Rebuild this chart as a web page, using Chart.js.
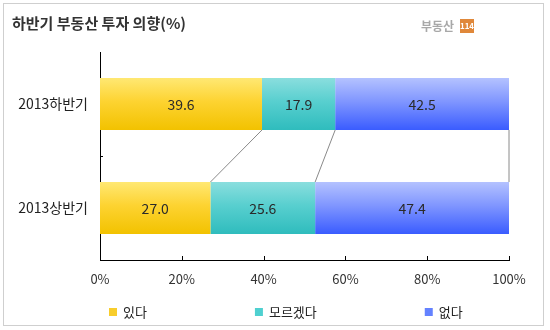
<!DOCTYPE html>
<html>
<head>
<meta charset="utf-8">
<script src="https://cdn.jsdelivr.net/npm/chart.js@4.4.0/dist/chart.umd.min.js"></script>
<style>
  body { margin: 0; background: #fff; }
  canvas { display: block; }
</style>
</head>
<body>
<canvas id="investChart" width="550" height="330"></canvas>
<script>
// Survey shares per half-year (%)
const periods = ['2013하반기', '2013상반기'];
const seriesNames = ['있다', '모르겠다', '없다'];
const yes = [39.6, 27.0];
const unsure = [17.9, 25.6];
const no = [42.5, 47.4];
const xTicks = [0, 20, 40, 60, 80, 100];

const FONT = "'Noto Sans CJK KR', 'Noto Sans', sans-serif";

// top / middle / bottom shades of each series
const shades = [
    ['#ffe873', '#fdd331', '#f2c200'],
    ['#8adede', '#58cfcf', '#2fbcbd'],
    ['#b4c2ff', '#8096ff', '#3a5cff']
];
const legendColors = ['#f8cd2c', '#4fd0d0', '#6482ff'];

const barFill = (series) => (ctx) => {
    const chart = ctx.chart;
    const y = chart.scales.y;
    if (!chart.chartArea || !y || ctx.dataIndex === undefined) return shades[series][1];
    const c = y.getPixelForValue(ctx.dataIndex);
    const half = y.getPixelForValue(1) - y.getPixelForValue(0);
    const g = chart.ctx.createLinearGradient(0, c - half / 4, 0, c + half / 4);
    g.addColorStop(0, shades[series][0]);
    g.addColorStop(0.45, shades[series][1]);
    g.addColorStop(1, shades[series][2]);
    return g;
};

// frame, title and logo
const decorations = {
    id: 'decorations',
    beforeDraw(chart) {
        const c = chart.ctx;
        c.save();
        c.fillStyle = '#fff';
        c.fillRect(0, 0, chart.width, chart.height);
        c.strokeStyle = '#cfcfcf';
        c.lineWidth = 1;
        c.strokeRect(3.5, 3.5, 540, 322);

        c.fillStyle = '#333';
        c.font = 'bold 15px ' + FONT;
        c.textBaseline = 'middle';
        c.fillText('하반기 부동산 투자 의향(%)', 12, 23);

        c.fillStyle = '#a8a8a8';
        c.font = 'bold 12px ' + FONT;
        c.fillText('부동산', 421, 26);
        c.fillStyle = '#e0883a';
        c.fillRect(460, 19, 14, 14);
        c.fillStyle = '#fff';
        c.font = 'bold 8px ' + FONT;
        c.textAlign = 'center';
        c.fillText('114', 467, 26);
        c.restore();
    }
};

// series lines between the two bars, value labels, tick marks and legend
const overlay = {
    id: 'overlay',
    afterDatasetsDraw(chart) {
        const c = chart.ctx;
        const x = chart.scales.x;
        const y = chart.scales.y;
        const sets = chart.data.datasets;
        const top = chart.getDatasetMeta(0).data[0];
        const bottom = chart.getDatasetMeta(0).data[1];
        const y0 = top.y + top.height / 2;
        const y1 = bottom.y - bottom.height / 2;

        c.save();
        c.strokeStyle = '#8a8a8a';
        c.lineWidth = 1;
        let sumA = 0, sumB = 0;
        sets.forEach(ds => {
            sumA += ds.data[0];
            sumB += ds.data[1];
            c.beginPath();
            c.moveTo(x.getPixelForValue(sumA), y0);
            c.lineTo(x.getPixelForValue(sumB), y1);
            c.stroke();
        });

        // value labels
        c.fillStyle = '#2a2a2a';
        c.font = '14px ' + FONT;
        c.textAlign = 'center';
        c.textBaseline = 'middle';
        sets.forEach((ds, i) => {
            chart.getDatasetMeta(i).data.forEach((el, j) => {
                const p = el.getCenterPoint();
                c.fillText(ds.data[j].toFixed(1), p.x, p.y + 1);
            });
        });

        // inner tick marks
        c.strokeStyle = '#000';
        const axisY = chart.chartArea.bottom;
        xTicks.slice(1).forEach(v => {
            const px = Math.round(x.getPixelForValue(v)) + 0.5;
            c.beginPath();
            c.moveTo(px, axisY);
            c.lineTo(px, axisY - 4);
            c.stroke();
        });
        const midY = Math.round((y.getPixelForValue(0) + y.getPixelForValue(1)) / 2) + 0.5;
        c.beginPath();
        c.moveTo(chart.chartArea.left, midY);
        c.lineTo(chart.chartArea.left + 3, midY);
        c.stroke();

        // legend
        c.font = '13px ' + FONT;
        c.textAlign = 'left';
        let lx = 109;
        const ly = 312;
        sets.forEach((ds, i) => {
            c.fillStyle = legendColors[i];
            c.fillRect(lx, ly - 4, 8, 8);
            c.fillStyle = '#222';
            c.fillText(ds.label, lx + 14, ly);
            lx += 14 + c.measureText(ds.label).width + 108;
        });
        c.restore();
    }
};

const ctx = document.getElementById('investChart').getContext('2d');
const investChart = new Chart(ctx, {
    type: 'bar',
    data: {
        labels: periods,
        datasets: [
            { label: seriesNames[0], data: yes, backgroundColor: barFill(0) },
            { label: seriesNames[1], data: unsure, backgroundColor: barFill(1) },
            { label: seriesNames[2], data: no, backgroundColor: barFill(2) }
        ]
    },
    options: {
        indexAxis: 'y',
        responsive: false,
        animation: false,
        devicePixelRatio: 1,
        categoryPercentage: 1,
        barPercentage: 0.5,
        layout: { padding: { top: 52, right: 41, left: 0, bottom: 40 } },
        scales: {
            x: {
                stacked: true,
                min: 0,
                max: 100,
                afterBuildTicks: (scale) => { scale.ticks = xTicks.map(v => ({ value: v })); },
                grid: { display: false, drawTicks: false },
                border: { color: '#000', width: 1 },
                ticks: {
                    padding: 11,
                    color: '#333',
                    font: { family: FONT, size: 13 },
                    callback: (v) => v + '%'
                },
                afterFit: (scale) => { scale.height = 30; }
            },
            y: {
                stacked: true,
                grid: { display: false, drawTicks: false },
                border: { color: '#000', width: 1 },
                ticks: {
                    padding: 12,
                    color: '#222',
                    font: { family: FONT, size: 14 }
                },
                afterFit: (scale) => { scale.width = 100; }
            }
        },
        plugins: {
            legend: { display: false },
            tooltip: { enabled: false }
        }
    },
    plugins: [decorations, overlay]
});
</script>
</body>
</html>
